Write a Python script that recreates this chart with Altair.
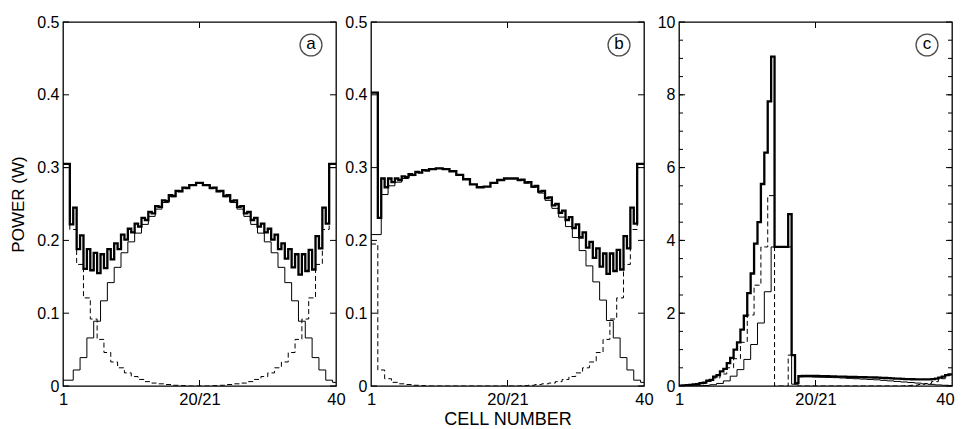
import altair as alt
import pandas as pd

# ---------------- data ----------------
# Panel (a): thin solid (S), dashed (D) per cell, thick total (T) per half cell
A_S = [0.008, 0.022, 0.039, 0.066, 0.089, 0.117, 0.142, 0.163, 0.183, 0.198,
       0.21, 0.222, 0.233, 0.243, 0.252, 0.26, 0.267, 0.272, 0.276, 0.279,
       0.276, 0.272, 0.267, 0.26, 0.252, 0.243, 0.233, 0.222, 0.21, 0.198,
       0.183, 0.163, 0.142, 0.117, 0.089, 0.066, 0.039, 0.022, 0.008, 0.005]
A_D = [0.30, 0.215, 0.167, 0.121, 0.092, 0.064, 0.046, 0.033, 0.025, 0.018,
       0.013, 0.009, 0.006, 0.004, 0.003, 0.002, 0.001, 0.0005, 0.0, 0.0,
       0.0, 0.0, 0.0005, 0.001, 0.002, 0.003, 0.004, 0.006, 0.009, 0.013,
       0.018, 0.025, 0.033, 0.046, 0.064, 0.092, 0.121, 0.167, 0.215, 0.30]
A_T1 = [0.305, 0.222, 0.188, 0.161, 0.159, 0.155, 0.162, 0.174, 0.188, 0.201,
        0.211, 0.219, 0.228, 0.237, 0.246, 0.254, 0.261, 0.2675, 0.272, 0.276,
        0.279, 0.276, 0.2725, 0.268, 0.262, 0.255, 0.247, 0.239, 0.231, 0.223,
        0.216, 0.208, 0.196, 0.188, 0.181, 0.181, 0.187, 0.206, 0.245, 0.305]
A_T2 = [0.305, 0.245, 0.207, 0.188, 0.183, 0.181, 0.188, 0.196, 0.208, 0.216,
        0.223, 0.231, 0.239, 0.247, 0.255, 0.262, 0.268, 0.2725, 0.276, 0.279,
        0.276, 0.272, 0.2675, 0.261, 0.254, 0.246, 0.237, 0.228, 0.219, 0.211,
        0.201, 0.188, 0.175, 0.163, 0.153, 0.158, 0.16, 0.189, 0.223, 0.305]

# Panel (b)
B_S = [0.208, 0.263, 0.275, 0.28, 0.285, 0.289, 0.293, 0.296, 0.298, 0.299,
       0.298, 0.295, 0.29, 0.284, 0.277, 0.273, 0.274, 0.279, 0.283, 0.285,
       0.285, 0.283, 0.279, 0.273, 0.265, 0.255, 0.244, 0.232, 0.219, 0.204,
       0.186, 0.165, 0.143, 0.118, 0.09, 0.066, 0.039, 0.022, 0.008, 0.005]
B_D = [0.195, 0.022, 0.01, 0.005, 0.003, 0.002, 0.001, 0.0005, 0.0, 0.0,
       0.0, 0.0, 0.0, 0.0, 0.0, 0.0, 0.0, 0.0, 0.0, 0.0,
       0.0, 0.0, 0.0005, 0.001, 0.002, 0.003, 0.004, 0.006, 0.009, 0.013,
       0.018, 0.025, 0.033, 0.046, 0.064, 0.092, 0.121, 0.167, 0.215, 0.30]
B_T1 = [0.403, 0.231, 0.273, 0.28, 0.283, 0.287, 0.29, 0.293, 0.296, 0.298,
        0.299, 0.298, 0.295, 0.29, 0.284, 0.277, 0.273, 0.274, 0.279, 0.283,
        0.285, 0.285, 0.2835, 0.28, 0.275, 0.268, 0.259, 0.25, 0.241, 0.232,
        0.222, 0.211, 0.198, 0.189, 0.182, 0.182, 0.187, 0.206, 0.245, 0.305]
B_T2 = [0.403, 0.285, 0.285, 0.285, 0.288, 0.291, 0.294, 0.2965, 0.298, 0.299,
        0.298, 0.295, 0.29, 0.284, 0.277, 0.273, 0.274, 0.279, 0.283, 0.285,
        0.285, 0.283, 0.2795, 0.274, 0.267, 0.258, 0.248, 0.238, 0.228, 0.217,
        0.204, 0.19, 0.176, 0.164, 0.154, 0.158, 0.16, 0.189, 0.223, 0.305]

# Panel (c)
C_S = [0.002, 0.004, 0.008, 0.015, 0.035, 0.07, 0.14, 0.27, 0.45, 0.73,
       1.14, 1.73, 2.59, 3.82, 3.82, 3.82, 0.05, 0.25, 0.25, 0.245,
       0.24, 0.235, 0.23, 0.22, 0.21, 0.2, 0.19, 0.18, 0.17, 0.155,
       0.14, 0.125, 0.11, 0.095, 0.08, 0.06, 0.045, 0.03, 0.02, 0.01]
C_D = [0.01, 0.02, 0.04, 0.07, 0.13, 0.22, 0.33, 0.5, 0.75, 1.2,
       1.95, 2.77, 3.82, 5.23, 0.0, 0.0, 0.85, 0.0, 0.0, 0.0,
       0.0, 0.0, 0.0, 0.0, 0.0, 0.0, 0.0, 0.0, 0.0, 0.0,
       0.0, 0.0, 0.0, 0.01, 0.02, 0.04, 0.07, 0.12, 0.2, 0.3]
C_T1 = [0.01, 0.02, 0.045, 0.08, 0.15, 0.26, 0.4, 0.63, 1.0, 1.55,
        2.55, 3.91, 5.55, 7.82, 3.82, 3.82, 4.72, 0.08, 0.28, 0.28,
        0.275, 0.27, 0.265, 0.26, 0.255, 0.25, 0.245, 0.24, 0.235, 0.23,
        0.22, 0.21, 0.2, 0.19, 0.185, 0.18, 0.18, 0.19, 0.23, 0.3]
C_T2 = [0.015, 0.03, 0.05, 0.09, 0.17, 0.3, 0.47, 0.77, 1.2, 1.93,
        3.09, 4.5, 6.41, 9.05, 3.82, 3.82, 0.85, 0.27, 0.28, 0.278,
        0.273, 0.268, 0.263, 0.258, 0.253, 0.248, 0.243, 0.238, 0.233, 0.225,
        0.215, 0.205, 0.195, 0.188, 0.183, 0.18, 0.18, 0.2, 0.26, 0.32]

AB_YTICKS = [0, 0.1, 0.2, 0.3, 0.4, 0.5]
C_YTICKS = [0, 2, 4, 6, 8, 10]
C_YMINOR = [0.5 * i for i in range(1, 20)]
X_TICKS = [0, 20, 40]

# ---------------- layout ----------------
W, H = 273, 364
FONT = "Liberation Sans"


def step_rows(series, starts, vals):
    rows = [{"s": series, "x": x, "y": v} for x, v in zip(starts, vals)]
    rows.append({"s": series, "x": 40, "y": vals[-1]})
    return rows


def panel(S, D, T1, T2, ydom, yticks, yminor, ytitle, xtitle, letter, lab_expr,
          last_label_shift=0):
    cell_starts = list(range(40))
    s_starts = [0] + [k - 0.5 for k in range(2, 41)]
    half_starts = [i * 0.5 for i in range(80)]
    t_vals = []
    for a, b in zip(T1, T2):
        t_vals += [a, b]
    rows = (step_rows("S", s_starts, S) + step_rows("D", cell_starts, D)
            + step_rows("T", half_starts, t_vals))
    df = pd.DataFrame(rows)

    xscale = alt.Scale(domain=[0, 40], nice=False, zero=False)
    yscale = alt.Scale(domain=ydom, nice=False, zero=True)
    xaxis_kw = dict(values=X_TICKS, ticks=False, domain=False, grid=False,
                    labelExpr="datum.value == 0 ? '1' : (datum.value == 20 ? '20/21' : '40')",
                    labelFontSize=16.5, labelPadding=18, labelBaseline="alphabetic",
                    labelFlush=False, labelFont=FONT, labelColor="black",
                    labelOffset={"condition": {"test": "datum.value == 40",
                                               "value": last_label_shift},
                                 "value": 0})
    if xtitle:
        xaxis = alt.Axis(title=xtitle, titleFontSize=18, titleFont=FONT,
                         titleColor="black", titleFontWeight="normal",
                         titleBaseline="alphabetic", titleY=38.5, **xaxis_kw)
    else:
        xaxis = alt.Axis(title=None, **xaxis_kw)
    yaxis_kw = dict(values=yticks, ticks=False, domain=False, grid=False,
                    labelExpr=lab_expr, labelFontSize=16, labelPadding=4,
                    labelFont=FONT, labelColor="black",
                    minExtent=26, maxExtent=26)
    if ytitle:
        yaxis = alt.Axis(title=ytitle, titleFontSize=17, titlePadding=10,
                         titleFont=FONT, titleColor="black",
                         titleFontWeight="normal", **yaxis_kw)
    else:
        yaxis = alt.Axis(title=None, **yaxis_kw)

    base = alt.Chart(df)
    x_enc = alt.X("x:Q", scale=xscale, axis=xaxis)
    y_enc = alt.Y("y:Q", scale=yscale, axis=yaxis)
    thin = base.transform_filter(alt.datum.s == "S").mark_line(
        interpolate="step-after", color="black", strokeWidth=1, clip=True
    ).encode(x=x_enc, y=y_enc)
    dashed = base.transform_filter(alt.datum.s == "D").mark_line(
        interpolate="step-after", color="black", strokeWidth=1,
        strokeDash=[5, 3], clip=True
    ).encode(x=x_enc, y=y_enc)
    thick = base.transform_filter(alt.datum.s == "T").mark_line(
        interpolate="step-after", color="black", strokeWidth=2.3, clip=True
    ).encode(x=x_enc, y=y_enc)

    ytdf = pd.DataFrame({"y": yticks})
    lt = alt.Chart(ytdf).mark_rule(color="black", strokeWidth=1).encode(
        y=y_enc, x=alt.value(0), x2=alt.value(6))
    rt = alt.Chart(ytdf).mark_rule(color="black", strokeWidth=1).encode(
        y=y_enc, x=alt.value(W), x2=alt.value(W - 6))
    layers = [thin, dashed, thick, lt, rt]
    if yminor:
        ymdf = pd.DataFrame({"y": yminor})
        layers.append(alt.Chart(ymdf).mark_rule(color="black", strokeWidth=1).encode(
            y=y_enc, x=alt.value(0), x2=alt.value(4)))
        layers.append(alt.Chart(ymdf).mark_rule(color="black", strokeWidth=1).encode(
            y=y_enc, x=alt.value(W), x2=alt.value(W - 4)))
    xtdf = pd.DataFrame({"x": [20]})
    layers.append(alt.Chart(xtdf).mark_rule(color="black", strokeWidth=1).encode(
        x=x_enc, y=alt.value(0), y2=alt.value(6)))
    layers.append(alt.Chart(xtdf).mark_rule(color="black", strokeWidth=1).encode(
        x=x_enc, y=alt.value(H), y2=alt.value(H - 6)))

    ldf = pd.DataFrame({"t": [letter]})
    layers.append(alt.Chart(ldf).mark_point(
        shape="circle", size=480, filled=False, color="black", strokeWidth=1.3
    ).encode(x=alt.value(248), y=alt.value(23)))
    layers.append(alt.Chart(ldf).mark_text(
        font=FONT, fontSize=17, color="black", align="center", baseline="middle", dy=-1
    ).encode(x=alt.value(248), y=alt.value(23), text="t:N"))

    return alt.layer(*layers).properties(width=W, height=H)


lab_ab = "datum.value == 0 ? '0' : format(datum.value, '.1f')"
lab_c = "format(datum.value, 'd')"

pa = panel(A_S, A_D, A_T1, A_T2, [0, 0.5], AB_YTICKS, None, "POWER (W)", None, "a", lab_ab)
pb = panel(B_S, B_D, B_T1, B_T2, [0, 0.5], AB_YTICKS, None, None, "CELL NUMBER", "b", lab_ab)
pc = panel(C_S, C_D, C_T1, C_T2, [0, 10], C_YTICKS, C_YMINOR, None, None, "c", lab_c,
           last_label_shift=-7)

chart = alt.hconcat(pa, pb, pc, spacing=35, bounds="flush").properties(
    padding={"left": 0, "top": 5, "right": 0, "bottom": 0},
    background="white",
).configure_view(stroke="black", strokeWidth=1.3)

chart.save("out.html", embed_options={"renderer": "svg", "actions": False})
